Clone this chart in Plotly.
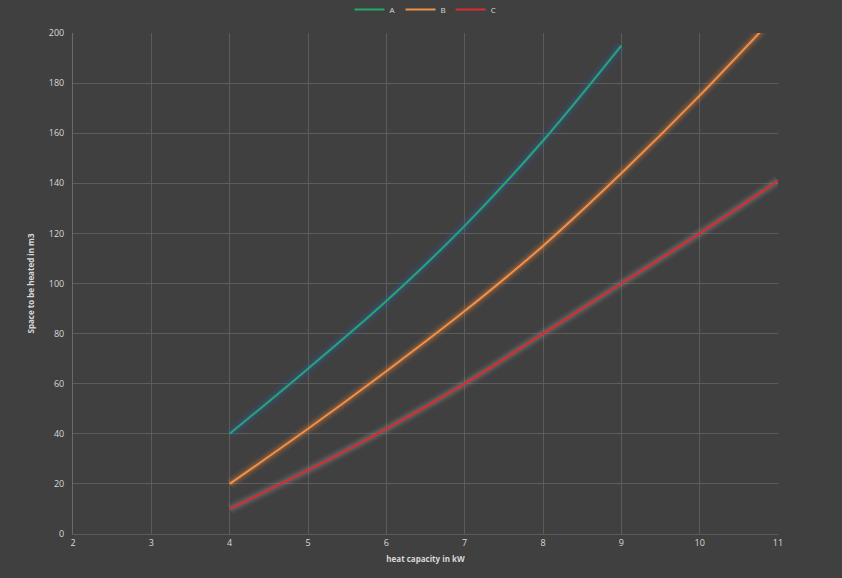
import plotly.graph_objects as go

x_a = [4, 5, 6, 7, 8, 9]
a_vals = [40, 66, 93, 123, 157, 195]
x_bc = [4, 5, 6, 7, 8, 9, 10, 11]
b_vals = [20, 42, 65, 89, 115, 144, 175, 208]
c_vals = [10, 25.5, 42, 60, 80, 100, 120, 141]

series = [
    ("A", x_a, a_vals, "#27a866", "rgba(40,100,200,{})"),
    ("B", x_bc, b_vals, "#f0904a", "rgba(235,130,50,{})"),
    ("C", x_bc, c_vals, "#dc2a2e", "rgba(150,150,150,{})"),
]

fig = go.Figure()
for name, xs, ys, col, glow in series:
    for w, op in [(12, 0.08), (8, 0.12), (5, 0.18)]:
        fig.add_trace(go.Scatter(x=xs, y=ys, mode="lines",
                                 line=dict(color=glow.format(op), width=w, shape="spline"),
                                 showlegend=False, hoverinfo="skip"))
for name, xs, ys, col, glow in series:
    fig.add_trace(go.Scatter(x=xs, y=ys, mode="lines", name=name,
                             line=dict(color=col, width=2, shape="spline")))

axis_font = dict(family="Open Sans, sans-serif", size=9, color="#d9d9d9")
fig.update_layout(
    width=842, height=578,
    paper_bgcolor="#404040", plot_bgcolor="#404040",
    margin=dict(l=73, r=64, t=33, b=44, autoexpand=False),
    font=axis_font,
    legend=dict(orientation="h", x=0.5, xanchor="center", y=1.018, yanchor="bottom",
                font=dict(size=8, color="#d9d9d9"), bgcolor="rgba(0,0,0,0)",
                tracegroupgap=0),
    xaxis=dict(range=[2, 11], dtick=1, tick0=2, showgrid=True, gridcolor="#5c5c5c", gridwidth=1,
               zeroline=False, showline=True, linecolor="#5c5c5c", ticks="", tickfont=axis_font,
               title=dict(text="<b>heat capacity in kW</b>", font=dict(size=8, color="#d9d9d9"), standoff=8)),
    yaxis=dict(range=[0, 200], dtick=20, showgrid=True, gridcolor="#5c5c5c", gridwidth=1,
               zeroline=False, showline=True, linecolor="#6a6a6a", ticks="", tickfont=axis_font,
               ticklabelstandoff=6,
               title=dict(text="<b>Space to be heated in m3</b>", font=dict(size=8, color="#d9d9d9"), standoff=12)),
)

fig.write_html("out.html", config={"displayModeBar": False},
               post_script="document.body.style.margin='0';document.body.style.background='#404040';")
